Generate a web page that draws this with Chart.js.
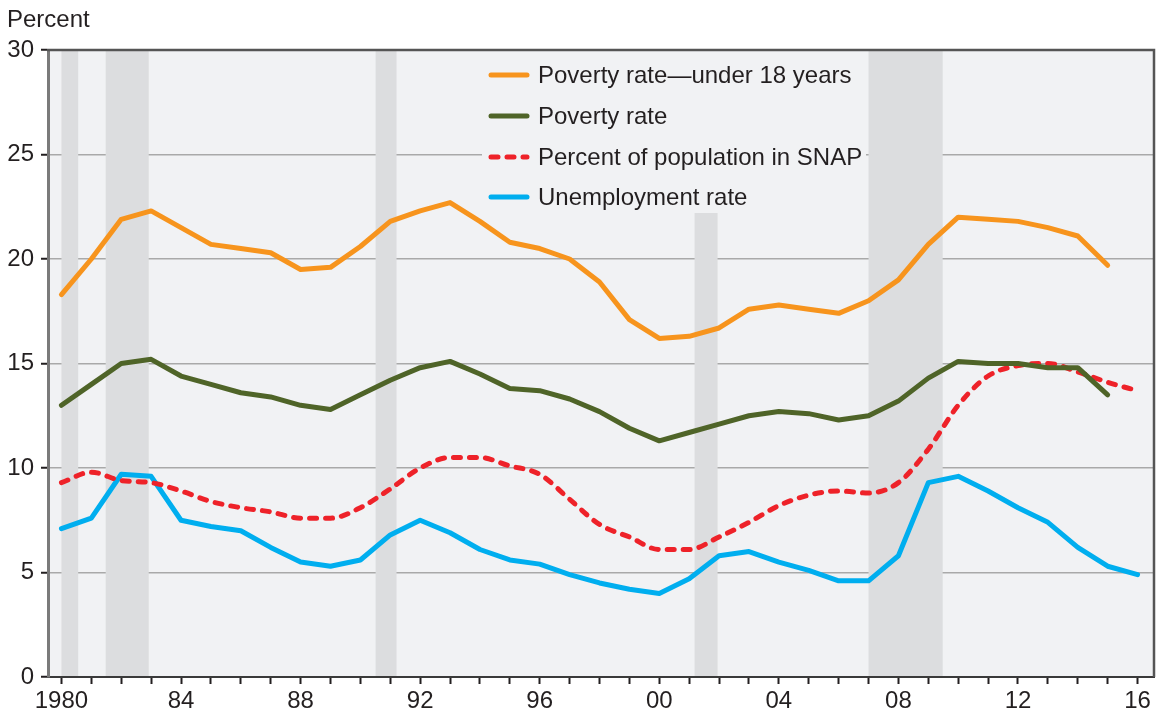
<!DOCTYPE html>
<html>
<head>
    <title>Poverty, SNAP participation and unemployment, 1980-2016</title>
    <!-- Chart.js from CDN -->
    <script src="https://cdn.jsdelivr.net/npm/chart.js"></script>
    <style>
        body { margin: 0; background: #ffffff; }
        #chartBox { width: 1156px; height: 716px; }
    </style>
</head>
<body>
    <div id="chartBox">
        <canvas id="povertyChart" width="1156" height="716"></canvas>
    </div>
    <script type="text/javascript">
        // Years on the x axis
        const years = [1980, 1981, 1982, 1983, 1984, 1985, 1986, 1987, 1988, 1989,
                       1990, 1991, 1992, 1993, 1994, 1995, 1996, 1997, 1998, 1999,
                       2000, 2001, 2002, 2003, 2004, 2005, 2006, 2007, 2008, 2009,
                       2010, 2011, 2012, 2013, 2014, 2015, 2016];

        // Series values (percent)
        const povertyUnder18 = [18.3, 20.0, 21.9, 22.3, 21.5, 20.7, 20.5, 20.3, 19.5, 19.6,
                                20.6, 21.8, 22.3, 22.7, 21.8, 20.8, 20.5, 20.0, 18.9, 17.1,
                                16.2, 16.3, 16.7, 17.6, 17.8, 17.6, 17.4, 18.0, 19.0, 20.7,
                                22.0, 21.9, 21.8, 21.5, 21.1, 19.7, null];
        const povertyRate = [13.0, 14.0, 15.0, 15.2, 14.4, 14.0, 13.6, 13.4, 13.0, 12.8,
                             13.5, 14.2, 14.8, 15.1, 14.5, 13.8, 13.7, 13.3, 12.7, 11.9,
                             11.3, 11.7, 12.1, 12.5, 12.7, 12.6, 12.3, 12.5, 13.2, 14.3,
                             15.1, 15.0, 15.0, 14.8, 14.8, 13.5, null];
        const snapShare = [9.3, 9.8, 9.4, 9.3, 8.9, 8.4, 8.1, 7.9, 7.6, 7.6,
                           8.1, 9.0, 10.0, 10.5, 10.5, 10.1, 9.7, 8.5, 7.3, 6.7,
                           6.1, 6.1, 6.7, 7.4, 8.2, 8.7, 8.9, 8.8, 9.3, 10.9,
                           13.0, 14.4, 14.9, 15.0, 14.6, 14.1, 13.7];
        const unemployment = [7.1, 7.6, 9.7, 9.6, 7.5, 7.2, 7.0, 6.2, 5.5, 5.3,
                              5.6, 6.8, 7.5, 6.9, 6.1, 5.6, 5.4, 4.9, 4.5, 4.2,
                              4.0, 4.7, 5.8, 6.0, 5.5, 5.1, 4.6, 4.6, 5.8, 9.3,
                              9.6, 8.9, 8.1, 7.4, 6.2, 5.3, 4.9];

        // Recession periods (shaded)
        const recessionStart = [1980.0, 1981.48, 1990.51, 2001.18, 2007.0];
        const recessionEnd = [1980.56, 1982.92, 1991.21, 2001.95, 2009.48];

        // Y axis ticks
        const yTicks = [0, 5, 10, 15, 20, 25, 30];

        const textColor = '#231f20';
        const plotBg = '#f1f2f4';
        const shadeColor = '#dcdddf';
        const fontStack = '"Liberation Sans", Arial, sans-serif';

        Chart.defaults.font.family = fontStack;
        Chart.defaults.color = textColor;

        function toPoints(values) {
            return years.map(function(yr, i) { return { x: yr, y: values[i] }; });
        }

        // Background, recession shading and the in-plot legend
        const backdropPlugin = {
            id: 'backdrop',
            beforeDraw: function(chart) {
                const ctx = chart.ctx;
                const a = chart.chartArea;
                ctx.save();
                ctx.fillStyle = plotBg;
                ctx.fillRect(a.left, a.top, a.right - a.left, a.bottom - a.top);
                ctx.restore();
            },
            beforeDatasetsDraw: function(chart) {
                const ctx = chart.ctx;
                const a = chart.chartArea;
                const xs = chart.scales.x;
                const ys = chart.scales.y;
                ctx.save();
                // recession bars
                ctx.fillStyle = shadeColor;
                for (let i = 0; i < recessionStart.length; i++) {
                    const x0 = xs.getPixelForValue(recessionStart[i]);
                    const x1 = xs.getPixelForValue(recessionEnd[i]);
                    const yTop = ys.getPixelForValue(30);
                    const yBot = ys.getPixelForValue(0) - 1;
                    ctx.fillRect(x0, yTop, x1 - x0, yBot - yTop);
                }
                // legend box (covers grid and shading)
                const box = { left: 482, top: a.top + 1, right: 866, bottom: 213 };
                ctx.fillStyle = plotBg;
                ctx.fillRect(box.left, box.top, box.right - box.left, box.bottom - box.top);
                const rowY = [75, 116, 157, 197];
                ctx.font = '24px ' + fontStack;
                ctx.textBaseline = 'middle';
                ctx.textAlign = 'left';
                chart.data.datasets.forEach(function(ds, i) {
                    ctx.beginPath();
                    ctx.lineWidth = 5;
                    ctx.lineCap = 'round';
                    ctx.strokeStyle = ds.borderColor;
                    ctx.setLineDash(ds.borderDash || []);
                    ctx.moveTo(491, rowY[i]);
                    ctx.lineTo(527, rowY[i]);
                    ctx.stroke();
                    ctx.setLineDash([]);
                    ctx.fillStyle = textColor;
                    ctx.fillText(ds.label, 538, rowY[i] + 1);
                });
                ctx.restore();
            },
            afterDraw: function(chart) {
                const ctx = chart.ctx;
                const a = chart.chartArea;
                ctx.save();
                // top and right frame
                ctx.strokeStyle = '#555555';
                ctx.lineWidth = 2.5;
                ctx.beginPath();
                ctx.moveTo(a.left - 1, a.top);
                ctx.lineTo(a.right, a.top);
                ctx.lineTo(a.right, a.bottom);
                ctx.stroke();
                // axis caption
                ctx.fillStyle = textColor;
                ctx.font = '24px ' + fontStack;
                ctx.textBaseline = 'alphabetic';
                ctx.textAlign = 'left';
                ctx.fillText('Percent', 7, 27);
                ctx.restore();
            }
        };

        const ctx = document.getElementById('povertyChart').getContext('2d');
        const povertyChart = new Chart(ctx, {
            type: 'line',
            data: {
                datasets: [
                    {
                        label: 'Poverty rate\u2014under 18 years',
                        data: toPoints(povertyUnder18),
                        borderColor: '#f7941d',
                        borderWidth: 5
                    },
                    {
                        label: 'Poverty rate',
                        data: toPoints(povertyRate),
                        borderColor: '#4f6428',
                        borderWidth: 5
                    },
                    {
                        label: 'Percent of population in SNAP',
                        data: toPoints(snapShare),
                        borderColor: '#ee2229',
                        borderWidth: 5,
                        borderDash: [7, 9],
                        cubicInterpolationMode: 'monotone'
                    },
                    {
                        label: 'Unemployment rate',
                        data: toPoints(unemployment),
                        borderColor: '#00aeef',
                        borderWidth: 5
                    }
                ]
            },
            options: {
                responsive: false,
                animation: false,
                layout: { padding: { top: 50, right: 2, bottom: 0, left: 0 } },
                elements: {
                    point: { radius: 0, hoverRadius: 0 },
                    line: { borderCapStyle: 'round', borderJoinStyle: 'round', fill: false }
                },
                plugins: {
                    legend: { display: false },
                    tooltip: { enabled: false }
                },
                scales: {
                    x: {
                        type: 'linear',
                        min: 1979.55,
                        max: 2016.55,
                        afterFit: function(scale) { scale.height = 39; },
                        afterBuildTicks: function(scale) {
                            scale.ticks = years.map(function(v) { return { value: v }; });
                        },
                        ticks: {
                            autoSkip: false,
                            maxRotation: 0,
                            padding: 3,
                            font: { size: 24 },
                            color: textColor,
                            callback: function(value) {
                                if (value === 1980) return '1980';
                                if (value % 4 === 0) return String(value % 100).padStart(2, '0');
                                return '';
                            }
                        },
                        grid: {
                            drawOnChartArea: false,
                            drawTicks: true,
                            tickLength: 7,
                            tickColor: textColor,
                            tickWidth: 2
                        },
                        border: { color: '#3a3a3a', width: 2 }
                    },
                    y: {
                        min: 0,
                        max: 30,
                        afterFit: function(scale) { scale.width = 48; },
                        afterBuildTicks: function(scale) {
                            scale.ticks = yTicks.map(function(v) { return { value: v }; });
                        },
                        ticks: {
                            padding: 7,
                            font: { size: 24 },
                            color: textColor
                        },
                        grid: {
                            color: '#a9a9a9',
                            lineWidth: 1.5,
                            drawTicks: true,
                            tickLength: 7,
                            tickColor: textColor,
                            tickWidth: 2
                        },
                        border: { color: '#7a7a7a', width: 3 }
                    }
                }
            },
            plugins: [backdropPlugin]
        });
    </script>
</body>
</html>
